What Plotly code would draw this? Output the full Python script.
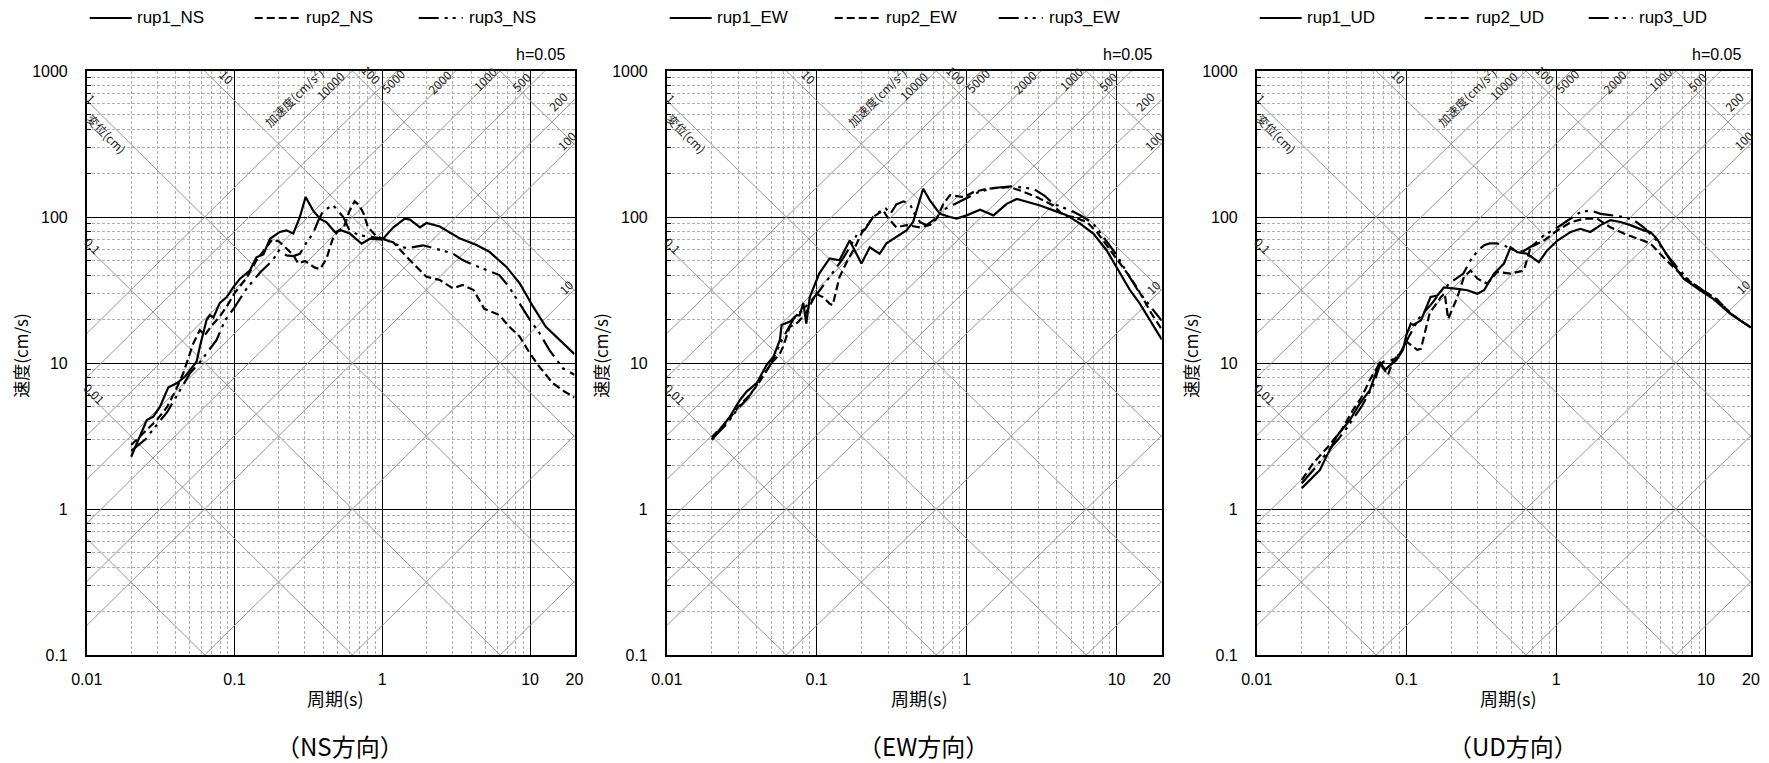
import math
import plotly.graph_objects as go

# the page places the figure 8 px in from the window's top-left corner
PAGE_OFFSET = 8
WIN_W, WIN_H = 1769, 763
FIG_W, FIG_H = WIN_W - PAGE_OFFSET, WIN_H - PAGE_OFFSET

# ------------------------------------------------------------------ data
PERIOD_TICKS = [0.01, 0.1, 1, 10, 20]
PERIOD_TICKTEXT = ["0.01", "0.1", "1", "10", "20"]
VEL_TICKS = [0.1, 1, 10, 100, 1000]
VEL_TICKTEXT = ["0.1", "1", "10", "100", "1000"]
DISP_LINES = [0.001, 0.01, 0.1, 1, 10, 100, 1000]                  # cm
ACC_LINES = [0.1, 1, 10, 100, 200, 500, 1000, 2000, 5000, 10000]   # cm/s2
DAMPING = "h=0.05"
COMPONENTS = ["NS", "EW", "UD"]
COMPONENT_TITLES = ["（NS方向）", "（EW方向）", "（UD方向）"]
RUPTURES = ["rup1", "rup2", "rup3"]

# ---- NS
ns_rup1_T = [0.02, 0.0255, 0.0282, 0.0313, 0.0356, 0.0406, 0.0462, 0.0554, 0.0583, 0.0647, 0.0682, 0.072, 0.0796,
             0.0886, 0.098, 0.109, 0.127, 0.141, 0.157, 0.174, 0.203, 0.225, 0.25, 0.277, 0.303, 0.34, 0.38, 0.42,
             0.478, 0.53, 0.604, 0.725, 0.825, 1.0, 1.19, 1.42, 1.54, 1.8, 1.99, 2.45, 3.33, 4.35, 5.3, 6.9, 8.5,
             10.5, 12.8, 15.8, 20]
ns_rup1_Sv = [2.28, 4.07, 4.29, 5.0, 6.8, 7.26, 8.06, 10.2, 12.9, 19.7, 21.3, 20.5, 25.8,
              28.3, 33, 37.8, 43, 53, 55.5, 71, 79, 81, 77, 100, 137, 111, 97, 92,
              79, 81, 77, 65.6, 71, 70, 85, 97.5, 96, 85, 91, 86, 71.5, 64.3, 57.8, 45.7, 35.2,
              24.3, 17.7, 14.4, 11.5]
ns_rup2_T = [0.02, 0.025, 0.03, 0.035, 0.04, 0.045, 0.0526, 0.0583, 0.063, 0.07, 0.08, 0.09, 0.1, 0.12, 0.14, 0.16,
             0.18, 0.2, 0.22, 0.25, 0.27, 0.3, 0.35, 0.38, 0.42, 0.46, 0.5, 0.55, 0.6, 0.65, 0.7, 0.75, 0.8, 0.9,
             1.0, 1.19, 1.54, 1.99, 2.45, 3.0, 3.5, 4.15, 4.9, 6.2, 7.2, 8.5, 10, 11.6, 14.2, 17, 20]
ns_rup2_Sv = [2.74, 3.4, 4.1, 5.0, 6.5, 8.5, 13.6, 16.8, 15.5, 18, 21, 25, 30, 38, 50, 60,
              70, 68, 62, 55, 48, 50, 45, 44, 52, 70, 80, 85, 110, 128, 120, 105, 85, 75,
              71, 67, 50.5, 39, 37, 32.5, 34.2, 31.6, 23.5, 21.3, 17.8, 15.2, 11.6, 9.4, 7.3, 6.4, 5.8]
ns_rup3_T = [0.02, 0.025, 0.0268, 0.03, 0.035, 0.0428, 0.05, 0.06, 0.0757, 0.086, 0.1, 0.12, 0.15, 0.18, 0.2, 0.225,
             0.25, 0.277, 0.31, 0.34, 0.37, 0.4, 0.466, 0.545, 0.6, 0.7, 0.87, 1.02, 1.19, 1.46, 1.89, 2.45, 2.99,
             3.5, 4.15, 5.1, 6.2, 7.2, 8.5, 10, 11.6, 13.5, 16.7, 20]
ns_rup3_Sv = [2.5, 3.0, 3.3, 3.8, 4.6, 6.5, 8.5, 10.5, 14.4, 19.5, 24, 32, 42, 50, 59, 54.6,
              54, 56, 68, 77, 95, 111, 120, 100, 81, 75, 73, 71, 66, 61, 64, 59.4, 56.4,
              50.7, 46.9, 43.3, 40, 33.3, 25.7, 19.7, 16, 12.3, 9.2, 8.3]

# ---- EW
ew_rup1_T = [0.02, 0.0264, 0.0308, 0.0341, 0.0398, 0.0464, 0.0514, 0.0537, 0.0569, 0.0584, 0.0664, 0.0736, 0.077,
             0.0815, 0.0853, 0.09, 0.104, 0.122, 0.142, 0.166, 0.199, 0.226, 0.263, 0.292, 0.34, 0.397, 0.44, 0.513,
             0.569, 0.664, 0.774, 0.857, 1.0, 1.23, 1.51, 1.85, 2.16, 2.52, 3.09, 3.79, 4.65, 5.71, 7.0, 8.6, 10,
             12.3, 14.3, 17, 20]
ew_rup1_Sv = [2.97, 4.29, 5.58, 6.37, 7.27, 9.7, 11, 12.3, 14.4, 18.2, 19.2, 21.3, 21.2,
              25.7, 18.6, 28.3, 41, 52, 50.5, 69, 48, 62, 56, 66, 73, 81, 92.5, 156,
              130, 105, 100, 97.4, 102.6, 112, 102.6, 123, 133, 127, 120, 111, 103, 90, 77, 59, 45.4,
              31.5, 25.5, 19, 14.5]
ew_rup2_T = [0.02, 0.025, 0.03, 0.035, 0.04, 0.045, 0.05, 0.0566, 0.0597, 0.066, 0.075, 0.085, 0.099, 0.11, 0.122,
             0.128, 0.142, 0.16, 0.18, 0.2, 0.238, 0.278, 0.3, 0.34, 0.397, 0.488, 0.569, 0.63, 0.7, 0.774, 0.95,
             1.11, 1.36, 1.67, 1.95, 2.27, 2.93, 3.79, 4.42, 5.16, 6.34, 7.38, 8.6, 10.6, 12.3, 14, 17, 20]
ew_rup2_Sv = [3.1, 3.9, 5.0, 5.9, 7.0, 8.4, 10, 11.5, 12.9, 17.6, 19, 22, 29.8, 28.3, 25.5,
              24.9, 38.8, 50, 62, 78, 100, 111, 98, 85, 88, 85, 88, 97, 123, 141, 137,
              148, 156, 159, 160, 152, 137, 120, 103, 100, 92.4, 79, 64, 48, 38.8, 31.5, 22, 17]
ew_rup3_T = [0.02, 0.025, 0.03, 0.035, 0.04, 0.045, 0.05, 0.055, 0.06, 0.07, 0.08, 0.09, 0.105, 0.12, 0.135, 0.15,
             0.166, 0.19, 0.21, 0.238, 0.26, 0.29, 0.31, 0.34, 0.38, 0.42, 0.45, 0.49, 0.54, 0.6, 0.7, 0.8, 1.0,
             1.2, 1.5, 2.0, 2.5, 2.8, 3.3, 3.8, 4.5, 5.2, 6.0, 7.0, 8.0, 10, 12, 14, 17, 20]
ew_rup3_Sv = [3.0, 3.8, 4.9, 5.8, 7.1, 8.6, 10, 12.5, 15, 20, 23, 26, 31.5, 38, 45.5, 52,
              62, 79, 82, 100, 108, 114, 105, 122, 128, 122, 105, 92, 88, 95, 112, 120, 135,
              148, 158, 162, 158, 156, 140, 123, 115, 108, 100, 90, 75, 55, 40, 31, 24, 19.5]

# ---- UD
ud_rup1_T = [0.02, 0.0264, 0.0285, 0.0341, 0.0419, 0.0489, 0.0569, 0.0615, 0.0664, 0.072, 0.078, 0.0858, 0.0948, 0.1,
             0.107, 0.111, 0.125, 0.129, 0.145, 0.161, 0.178, 0.219, 0.255, 0.298, 0.33, 0.384, 0.448, 0.496, 0.55,
             0.64, 0.766, 0.87, 1.02, 1.25, 1.45, 1.69, 1.98, 2.3, 2.68, 3.13, 3.84, 4.26, 4.7, 5.78, 7.1, 9.15,
             11.2, 14.5, 17, 20]
ud_rup1_Sv = [1.39, 1.85, 2.17, 3.13, 4.07, 5.3, 6.5, 8.06, 10.2, 9.0, 9.6, 10.5, 12.3, 15.6,
              18.6, 18.2, 19.6, 21.3, 28.3, 29, 33, 32.2, 31.5, 29.8, 31.5, 40.9, 48, 62, 57.5,
              56, 49, 59, 69, 79, 83, 79, 88, 95, 92.4, 88, 81, 79, 71, 50.5, 37.8, 31.5,
              27.5, 21.8, 19.5, 17.5]
ud_rup2_T = [0.02, 0.0238, 0.03, 0.037, 0.044, 0.05, 0.0569, 0.0664, 0.0753, 0.082, 0.09, 0.1, 0.11, 0.118, 0.125,
             0.132, 0.143, 0.17, 0.18, 0.19, 0.219, 0.242, 0.268, 0.298, 0.347, 0.404, 0.496, 0.609, 0.674, 0.827,
             1.02, 1.25, 1.53, 1.88, 2.3, 2.83, 3.46, 4.26, 5.2, 6.4, 7.85, 10, 12, 14.5, 17, 20]
ud_rup2_Sv = [1.58, 2.06, 2.67, 3.5, 4.77, 5.8, 7.66, 10, 8.3, 10.5, 11.5, 14, 13, 12.3, 12.5,
              16, 22, 28.3, 30, 20, 28.3, 38.8, 43, 37.8, 35, 42, 41, 43, 62, 69,
              81, 92, 97.4, 97.4, 85, 77, 71, 66, 53, 43, 36, 30.5, 27, 22, 19.5, 17.5]
ud_rup3_T = [0.02, 0.025, 0.03, 0.035, 0.04, 0.05, 0.06, 0.066, 0.07, 0.08, 0.09, 0.1, 0.12, 0.15, 0.17, 0.2, 0.24,
             0.268, 0.3, 0.33, 0.36, 0.4, 0.45, 0.5, 0.6, 0.7, 0.83, 1.02, 1.25, 1.45, 1.69, 1.98, 2.3, 2.83, 3.3,
             3.84, 4.7, 5.5, 6.4, 7.85, 10, 12, 14.5, 17, 20]
ud_rup3_Sv = [1.5, 1.95, 2.5, 3.0, 3.6, 5.0, 7.0, 9.5, 10.2, 10.5, 11.5, 14, 20, 26, 31, 36, 41,
              50.5, 59, 64, 66, 66, 64, 60, 58, 64, 75, 85, 97.4, 108, 111, 105, 103, 100, 95,
              85, 69, 55, 45.5, 36, 30.5, 27, 22, 19.5, 17.5]

SPECTRA = {
    "NS": [(ns_rup1_T, ns_rup1_Sv), (ns_rup2_T, ns_rup2_Sv), (ns_rup3_T, ns_rup3_Sv)],
    "EW": [(ew_rup1_T, ew_rup1_Sv), (ew_rup2_T, ew_rup2_Sv), (ew_rup3_T, ew_rup3_Sv)],
    "UD": [(ud_rup1_T, ud_rup1_Sv), (ud_rup2_T, ud_rup2_Sv), (ud_rup3_T, ud_rup3_Sv)],
}

# ------------------------------------------------------------------ layout / style (window px)
PANEL_PX = [(86.7, 574.5), (666.7, 1161.7), (1256.7, 1751.0)]
PLOT_TOP_PX, PLOT_BOTTOM_PX = 71, 655
LEGEND_Y_PX = 18
LEGEND_ITEMS_PX = [(3, 45, 48), (168, 215, 217), (332, 376, 380)]   # sample start, sample end, text start
LINE_DASH = ["solid", "8px,4px", "20px,6px,3px,5px,3px,6px"]
FONT = "Liberation Sans, Arial, Noto Sans CJK JP, sans-serif"
JFONT = "Noto Sans CJK JP, Liberation Sans, sans-serif"
GRID_MINOR = "#b0b0b0"
DIAG_COLOR = "#969696"


def fx(p):
    return (p - PAGE_OFFSET) / FIG_W


def fy(p):
    return 1 - (p - PAGE_OFFSET) / FIG_H


X_RANGE = [-2, math.log10(20)]
Y_RANGE = [-1, 3]
X_MINOR = [m * 10 ** e for e in range(-2, 2) for m in range(2, 10) if m * 10 ** e < 20]
Y_MINOR = [m * 10 ** e for e in range(-1, 3) for m in range(2, 10)]

# tripartite scale labels: (text, log10 T, log10 Sv, angle)
TRI_LABELS = [
    ("1", -1.966, 2.813, 45), ("変位(cm)", -1.865, 2.573, 45), ("10", -1.053, 2.961, 45),
    ("100", -0.073, 2.973, 45), ("0.1", -1.955, 1.808, 45), ("0.01", -1.944, 0.792, 45),
    ("加速度(cm/s<sup>2</sup>)", -0.605, 2.824, -45), ("10000", -0.355, 2.904, -45),
    ("5000", 0.071, 2.938, -45), ("2000", 0.389, 2.927, -45), ("1000", 0.693, 2.952, -45),
    ("500", 0.941, 2.927, -45), ("200", 1.187, 2.79, -45), ("100", 1.245, 2.527, -45),
    ("10", 1.245, 1.523, -45),
]

fig = go.Figure()
annotations, shapes = [], []
T_EXT = [0.001, 100.0]

for i, comp in enumerate(COMPONENTS):
    k = "" if i == 0 else str(i + 1)
    xa, ya = "x" + k, "y" + k
    # displacement lines: Sv = 2*pi*D/T
    dx, dy = [], []
    for D in DISP_LINES:
        dx += T_EXT + [None]
        dy += [2 * math.pi * D / t for t in T_EXT] + [None]
    fig.add_trace(go.Scatter(x=dx, y=dy, mode="lines", line=dict(color=DIAG_COLOR, width=1),
                             xaxis=xa, yaxis=ya, showlegend=False, hoverinfo="skip"))
    # acceleration lines: Sv = A*T/(2*pi)
    ax_, ay_ = [], []
    for A in ACC_LINES:
        ax_ += T_EXT + [None]
        ay_ += [A * t / (2 * math.pi) for t in T_EXT] + [None]
    fig.add_trace(go.Scatter(x=ax_, y=ay_, mode="lines", line=dict(color=DIAG_COLOR, width=1),
                             xaxis=xa, yaxis=ya, showlegend=False, hoverinfo="skip"))

    x0, x1 = PANEL_PX[i]
    # spectra + legend entries
    for j, (T, S) in enumerate(SPECTRA[comp]):
        name = f"{RUPTURES[j]}_{comp}"
        fig.add_trace(go.Scatter(
            x=T, y=S, mode="lines", name=name,
            line=dict(color="black", width=2.2, dash=LINE_DASH[j]),
            xaxis=xa, yaxis=ya, showlegend=False))
        s0, s1, t0 = LEGEND_ITEMS_PX[j]
        shapes.append(dict(type="line", xref="paper", yref="paper",
                           x0=fx(x0 + s0), x1=fx(x0 + s1), y0=fy(LEGEND_Y_PX), y1=fy(LEGEND_Y_PX),
                           line=dict(color="black", width=2.2, dash=LINE_DASH[j])))
        annotations.append(dict(text=name, xref="paper", yref="paper", x=fx(x0 + t0), y=fy(LEGEND_Y_PX),
                                xanchor="left", yanchor="middle", showarrow=False,
                                font=dict(family=FONT, size=17, color="black")))

    dom_x = [fx(x0), fx(x1)]
    dom_y = [fy(PLOT_BOTTOM_PX), fy(PLOT_TOP_PX)]
    axis_common = dict(type="log", showline=True, mirror=True, linecolor="black", linewidth=1.5,
                       gridcolor="black", gridwidth=1, zeroline=False, automargin=False,
                       tickfont=dict(family=FONT, size=16, color="black"))
    fig.update_layout(**{
        "xaxis" + k: dict(axis_common, domain=dom_x, range=X_RANGE, anchor=ya,
                          tickvals=PERIOD_TICKS, ticktext=PERIOD_TICKTEXT, ticks="",
                          ticklabelstandoff=9,
                          minor=dict(tickvals=X_MINOR, showgrid=True, gridcolor=GRID_MINOR,
                                     griddash="3px,2px", gridwidth=1, ticks="")),
        "yaxis" + k: dict(axis_common, domain=dom_y, range=Y_RANGE, anchor=xa,
                          tickvals=VEL_TICKS, ticktext=VEL_TICKTEXT, ticks="",
                          ticklabelstandoff=14,
                          minor=dict(tickvals=Y_MINOR, showgrid=True, gridcolor=GRID_MINOR,
                                     griddash="3px,2px", gridwidth=1, ticks="inside",
                                     ticklen=5, tickcolor="black", tickwidth=1)),
    })

    cx = (x0 + x1) / 2
    annotations += [
        dict(text=DAMPING, xref="paper", yref="paper", x=fx(x1 - 8), y=fy(55),
             xanchor="right", yanchor="middle", showarrow=False, font=dict(family=FONT, size=16)),
        dict(text="周期(s)", xref="paper", yref="paper", x=fx(cx + 5), y=fy(698),
             xanchor="center", yanchor="middle", showarrow=False, font=dict(family=JFONT, size=18)),
        dict(text=COMPONENT_TITLES[i], xref="paper", yref="paper", x=fx(cx + 9), y=fy(745),
             xanchor="center", yanchor="middle", showarrow=False, font=dict(family=JFONT, size=24)),
        dict(text="速度(cm/s)", xref="paper", yref="paper", x=fx(x0 - 67), y=fy(355),
             xanchor="center", yanchor="middle", textangle=-90, showarrow=False,
             font=dict(family=JFONT, size=17)),
    ]
    for txt, lt, ls, ang in TRI_LABELS:
        annotations.append(dict(text=txt, xref=xa, yref=ya, x=lt, y=ls, textangle=ang,
                                xanchor="center", yanchor="middle", showarrow=False,
                                font=dict(family=JFONT, size=12, color="#222")))

fig.update_layout(width=FIG_W, height=FIG_H, autosize=False,
                  margin=dict(l=0, r=0, t=0, b=0),
                  paper_bgcolor="white", plot_bgcolor="white",
                  font=dict(family=FONT, color="black"),
                  showlegend=False,
                  annotations=annotations, shapes=shapes)

fig.write_html("out.html")
